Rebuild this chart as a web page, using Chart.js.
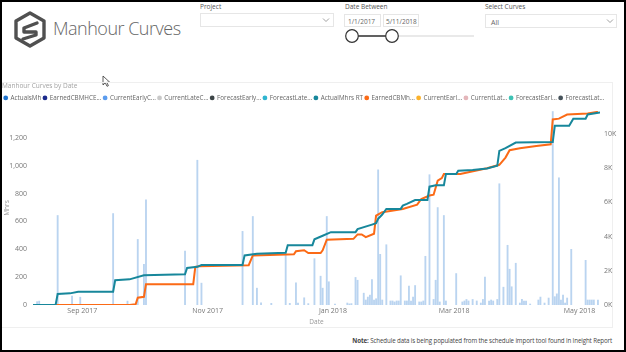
<!DOCTYPE html>
<html>
<head>
<meta charset="utf-8">
<script src="https://cdn.jsdelivr.net/npm/chart.js@4.4.1/dist/chart.umd.min.js"></script>
<style>
html, body { margin: 0; padding: 0; background: #fff; }
#page { position: relative; width: 626px; height: 352px; overflow: hidden; font-family: "Segoe UI", "Open Sans", sans-serif; background: #fff; }
#frame { position: absolute; left: 0; top: 0; width: 626px; height: 352px; box-sizing: border-box; border: 2px solid #000; pointer-events: none; z-index: 10; }
.lbl { position: absolute; font-size: 6.5px; color: #555; white-space: nowrap; }
.box { position: absolute; box-sizing: border-box; border: 1px solid #e6e6e6; background: #fff; font-size: 6.5px; color: #666; white-space: nowrap; }
#title { position: absolute; left: 53px; top: 17px; font-size: 18px; line-height: 22px; letter-spacing: -0.5px; color: #666; font-weight: 300; white-space: nowrap; }
#visual { position: absolute; left: -1px; top: 82px; width: 614px; height: 246px; box-sizing: border-box; border: 1px solid #efefef; }
#chartWrap { position: absolute; left: 0; top: 80px; width: 626px; height: 250px; }
#note { position: absolute; right: 14px; top: 336px; font-size: 6.2px; letter-spacing: -0.12px; color: #444; white-space: nowrap; }
</style>
</head>
<body>
<div id="page">
  <svg style="position:absolute;left:10px;top:10px" width="40" height="40" viewBox="0 0 40 40">
    <path d="M20 3 L34 11 L34 28 L20 36 L6 28 L6 11 Z" fill="none" stroke="#505050" stroke-width="3.4" stroke-linejoin="round"/>
    <path d="M27 13 L14 18 L14 22 L26 22 L26 25 L13 29" fill="none" stroke="#505050" stroke-width="3.4" stroke-linejoin="round" stroke-linecap="round"/>
  </svg>
  <div id="title">Manhour Curves</div>

  <div class="lbl" style="left:200px;top:2px">Project</div>
  <div class="box" style="left:200px;top:13px;width:134px;height:14px"></div>
  <svg style="position:absolute;left:322px;top:17px" width="8" height="6"><polyline points="1,1.5 4,4.5 7,1.5" fill="none" stroke="#888" stroke-width="0.8"/></svg>

  <div class="lbl" style="left:345px;top:2px">Date Between</div>
  <div class="box" style="left:344px;top:14px;width:37px;height:13px;padding:2px 0 0 3px">1/1/2017</div>
  <div class="box" style="left:383px;top:14px;width:36px;height:13px;padding:2px 0 0 2px">5/11/2018</div>
  <svg style="position:absolute;left:340px;top:26px" width="140" height="20">
    <line x1="12" y1="10" x2="134" y2="10" stroke="#e2e2e2" stroke-width="1.5"/>
    <line x1="12" y1="10" x2="52" y2="10" stroke="#333" stroke-width="1.3"/>
    <circle cx="12" cy="10" r="6.3" fill="#fff" stroke="#333" stroke-width="1.2"/>
    <circle cx="52" cy="10" r="6.3" fill="#fff" stroke="#333" stroke-width="1.2"/>
  </svg>

  <div class="lbl" style="left:485px;top:2px">Select Curves</div>
  <div class="box" style="left:485px;top:14px;width:132px;height:14px;padding:3px 0 0 5px;font-size:7px">All</div>
  <svg style="position:absolute;left:606px;top:18px" width="8" height="6"><polyline points="1,1.5 4,4.5 7,1.5" fill="none" stroke="#888" stroke-width="0.8"/></svg>

  <svg style="position:absolute;left:100px;top:74px" width="12" height="14">
    <path d="M3 2 L3 11 L5.3 8.8 L7 12.3 L8.4 11.7 L6.8 8.3 L9.8 8.3 Z" fill="#fff" stroke="#333" stroke-width="0.8" stroke-linejoin="round"/>
  </svg>

  <div id="visual"></div>
  <div id="chartWrap"><canvas id="myChart" width="626" height="250"></canvas></div>

  <div id="note"><b>Note:</b> Schedule data is being populated from the schedule import tool found in Ineight Report</div>
  <div id="frame"></div>
</div>

<script>
// day 0 = 8 Aug 2017, last day = 11 May 2018
var seriesNames = ["ActualsMh", "EarnedCBMHCE...", "CurrentEarlyC...", "CurrentLateC...", "ForecastEarly...", "ForecastLate...",
	"ActualMhrs RT", "EarnedCBMh...", "CurrentEarl...", "CurrentLat...", "ForecastEarl...", "ForecastLat..."];
var seriesColors = ["#1f74cf", "#1b2a8c", "#5b9cee", "#c8c8c8", "#3d4547", "#2fb5d0",
	"#17879b", "#fb6a16", "#fbb22c", "#e4b6ba", "#3fc2b4", "#46525a"];

var tickDays = [24, 85, 146, 205, 266];
var tickLabels = ["Sep 2017", "Nov 2017", "Jan 2018", "Mar 2018", "May 2018"];
var leftTicks = [0, 200, 400, 600, 800, 1000, 1200];
var rightTicks = [0, 2, 4, 6, 8, 10];

// daily manhours (bars, left axis)
var barDays = [2, 3, 12, 19, 23, 39, 46, 51, 54, 55, 74, 80, 82, 102, 107, 109, 111, 116, 123, 125, 128, 129, 132, 134,
	137, 140, 141, 143, 144, 147, 153, 154, 155, 157, 158, 161, 162, 163, 164, 165, 166, 167, 168, 169, 170, 172,
	174, 175, 176, 177, 178, 179, 181, 182, 183, 184, 185, 186, 188, 189, 190, 191, 193, 195, 196, 197, 198, 200,
	201, 206, 209, 210, 211, 212, 214, 216, 218, 219, 220, 222, 223, 224, 226, 227, 229, 231, 232, 233, 235, 237,
	238, 239, 240, 242, 246, 247, 249, 251, 253, 254, 255, 256, 257, 258, 259, 260, 262, 269, 270, 271, 272, 273, 275];
var barMh = [24, 28, 643, 64, 56, 657, 28, 471, 293, 755, 388, 1040, 157, 529, 636, 121, 15, 12, 357, 12, 160, 14, 52, 10,
	333, 207, 121, 636, 167, 7, 14, 8, 10, 198, 178, 85, 36, 57, 71, 183, 36, 45, 971, 364, 36, 433,
	29, 29, 22, 29, 29, 210, 29, 29, 136, 29, 57, 140, 22, 22, 29, 350, 936, 40, 178, 700, 22, 643,
	29, 226, 22, 29, 40, 29, 40, 29, 14, 40, 200, 29, 36, 29, 40, 871, 128, 429, 257, 131, 300, 14,
	40, 29, 29, 7, 36, 57, 14, 50, 1390, 60, 80, 914, 36, 71, 14, 50, 400, 321, 36, 36, 36, 36, 36];

// cumulative curves (thousands, right axis)
var actualDays = [0, 11, 12, 18, 22, 39, 40, 47, 54, 74, 75, 80, 82, 102, 103, 109, 123, 124, 136, 137, 141, 145, 157, 158,
	165, 167, 168, 170, 172, 179, 180, 182, 186, 192, 193, 196, 200, 201, 206, 207, 214, 221, 226, 227, 230, 235,
	253, 254, 261, 263, 269, 270, 276];
var actualK = [0, 0, 0.64, 0.68, 0.77, 0.77, 1.45, 1.5, 1.74, 1.8, 2.17, 2.23, 2.34, 2.34, 2.9, 3.0, 3.06, 3.5, 3.5, 3.84,
	4.05, 4.26, 4.26, 4.44, 4.7, 4.78, 5.04, 5.29, 5.62, 5.62, 5.81, 5.91, 6.14, 6.14, 6.92, 7.0, 7.0, 7.66, 7.66,
	7.85, 7.9, 7.98, 8.14, 9.01, 9.17, 9.5, 9.53, 10.48, 10.48, 10.89, 10.89, 11.14, 11.26];
var earnedDays = [0, 47, 50, 51, 54, 55, 78, 79, 81, 105, 107, 127, 128, 132, 134, 140, 141, 143, 156, 158, 160, 162, 166,
	167, 170, 180, 187, 189, 193, 195, 197, 199, 200, 208, 221, 227, 230, 232, 237, 245, 252, 253, 256, 260, 270, 275];
var earnedK = [0, 0, 0.05, 0.43, 0.48, 1.22, 1.22, 2.23, 2.27, 2.33, 2.9, 2.97, 3.14, 3.2, 3.04, 3.04, 3.2, 3.82, 3.87,
	4.13, 4.13, 3.97, 4.17, 5.23, 5.43, 5.62, 5.87, 6.2, 6.4, 6.45, 7.27, 7.42, 7.66, 7.66, 8.0, 8.2, 8.62, 9.05,
	9.17, 9.3, 9.4, 10.85, 10.9, 11.14, 11.2, 11.3];

function toPoints(xs, ys) {
	var pts = [];
	for (var i = 0; i < xs.length; i++) {
		pts.push({x: xs[i], y: ys[i]});
	}
	return pts;
}

Chart.defaults.font.family = "'Segoe UI', 'Open Sans', sans-serif";
Chart.defaults.color = "#888";

var datasets = [];
for (var i = 0; i < seriesNames.length; i++) {
	datasets.push({
		type: "line",
		label: seriesNames[i],
		data: [],
		yAxisID: "y1",
		borderColor: seriesColors[i],
		backgroundColor: seriesColors[i],
		borderWidth: 2,
		pointRadius: 0,
		tension: 0,
		order: 0
	});
}
datasets[0] = {
	type: "bar",
	label: seriesNames[0],
	data: toPoints(barDays, barMh),
	yAxisID: "y",
	backgroundColor: "rgba(140,184,230,0.6)",
	barThickness: 1.2,
	order: 2
};
datasets[6].data = toPoints(actualDays, actualK);
datasets[7].data = toPoints(earnedDays, earnedK);

new Chart("myChart", {
	type: "bar",
	data: {datasets: datasets},
	options: {
		responsive: false,
		animation: false,
		devicePixelRatio: 1,
		layout: {padding: {left: 2, right: 0, top: 0, bottom: 0}},
		plugins: {
			tooltip: {enabled: false},
			title: {
				display: true,
				text: "Manhour Curves by Date",
				align: "start",
				color: "#a3a3a3",
				font: {size: 6.5, weight: "normal"},
				padding: {top: 2, bottom: 3}
			},
			legend: {
				display: true,
				align: "start",
				labels: {
					usePointStyle: true,
					boxWidth: 3.4,
					boxHeight: 3.4,
					padding: 2,
					color: "#666",
					font: {size: 6.3},
					generateLabels: function (chart) {
						return seriesNames.map(function (name, i) {
							return {text: name, fillStyle: seriesColors[i], strokeStyle: seriesColors[i],
								lineWidth: 0, pointStyle: "circle", hidden: false, datasetIndex: i, fontColor: "#666"};
						});
					}
				}
			}
		},
		scales: {
			x: {
				type: "linear",
				min: 0,
				max: 276,
				offset: false,
				grid: {display: false, drawTicks: false, offset: false},
				border: {display: false},
				afterFit: function (scale) { scale.height = 25; },
				afterBuildTicks: function (scale) {
					scale.ticks = tickDays.map(function (d) { return {value: d}; });
				},
				ticks: {
					autoSkip: false,
					maxRotation: 0,
					padding: 2,
					color: "#777",
					font: {size: 7},
					callback: function (value, index) { return tickLabels[index]; }
				},
				title: {display: true, text: "Date", color: "#999", font: {size: 6.5}, padding: {top: 0, bottom: 4}}
			},
			y: {
				position: "left",
				min: 0,
				max: 1393,
				grid: {display: false, drawTicks: false},
				border: {display: false},
				afterFit: function (scale) { scale.width = 31; },
				afterBuildTicks: function (scale) {
					scale.ticks = leftTicks.map(function (v) { return {value: v}; });
				},
				ticks: {
					padding: 6,
					color: "#777",
					font: {size: 7},
					callback: function (value) { return value.toLocaleString("en-US"); }
				},
				title: {display: true, text: "Mhrs", color: "#999", font: {size: 6.5}, padding: {top: 1, bottom: 0}}
			},
			y1: {
				position: "right",
				min: 0,
				max: 11.34,
				grid: {display: false, drawTicks: false},
				border: {display: false},
				afterFit: function (scale) { scale.width = 26; },
				afterBuildTicks: function (scale) {
					scale.ticks = rightTicks.map(function (v) { return {value: v}; });
				},
				ticks: {
					padding: 4,
					color: "#777",
					font: {size: 7},
					callback: function (value) { return value + "K"; }
				}
			}
		}
	}
});
</script>
</body>
</html>
